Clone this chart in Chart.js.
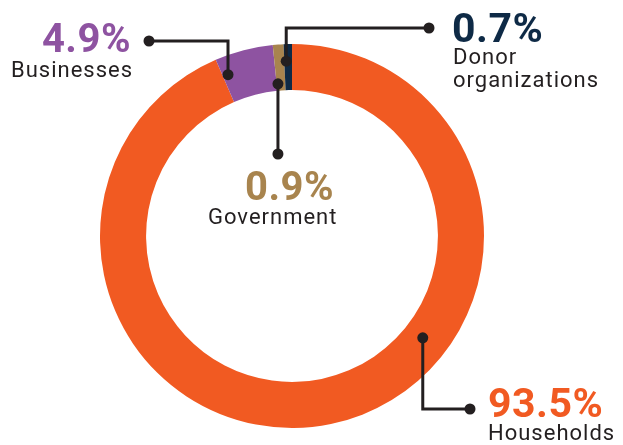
<!DOCTYPE html>
<html>
<head>
<meta charset="utf-8">
<script src="https://cdn.jsdelivr.net/npm/chart.js@4"></script>
<style>
  html, body { margin: 0; padding: 0; background: #fff; }
  .wrap { position: relative; width: 623px; height: 445px; overflow: hidden; }
  canvas { position: absolute; left: 0; top: 0; }
  .lbl { position: absolute; white-space: nowrap; line-height: 1; font-family: Roboto, "Noto Sans", sans-serif; }
  .pct { font-weight: 700; letter-spacing: 0.5px; }
  .name { color: #231f20; font-weight: 400; letter-spacing: 1px; }
</style>
</head>
<body>
<div class="wrap" id="wrap">
  <canvas id="chart" width="623" height="445"></canvas>
</div>
<script>
// data
const categories = ['Households', 'Businesses', 'Government', 'Donor organizations'];
const shares = [93.5, 4.9, 0.9, 0.7];
const sliceColors = ['#f15a22', '#8e53a1', '#a8844e', '#0e2a46'];

const LINE = '#231f20';

// callouts: t = position along the slice, rf = position across the ring
const callouts = [
  { index: 0, t: 0.38, rf: 0.43, elbowY: 409, endX: 470 },
  { index: 1, t: 0.10, rf: 0.60, elbowY: 41, endX: 149 },
  { index: 2, t: 0.15, rf: 0.15, elbowY: 154, endX: null },
  { index: 3, t: 0.25, rf: 0.63, elbowY: 28, endX: 429 },
];

// label placement: baseline y, left or right x
const labels = [
  { text: '93.5%', cls: 'pct', color: sliceColors[0], size: 41, left: 488, base: 418 },
  { text: 'Households', cls: 'name', size: 22, left: 488, base: 441 },
  { text: '4.9%', cls: 'pct', color: sliceColors[1], size: 40, right: 131, base: 53 },
  { text: 'Businesses', cls: 'name', size: 22, left: 11, base: 78 },
  { text: '0.9%', cls: 'pct', color: sliceColors[2], size: 40, left: 245, base: 201 },
  { text: 'Government', cls: 'name', size: 22, left: 208, base: 225 },
  { text: '0.7%', cls: 'pct', color: sliceColors[3], size: 41, left: 452, base: 43 },
  { text: 'Donor', cls: 'name', size: 22, left: 453, base: 65 },
  { text: 'organizations', cls: 'name', size: 22, left: 453, base: 88 },
];

const wrap = document.getElementById('wrap');
labels.forEach(l => {
  const el = document.createElement('div');
  el.className = 'lbl ' + l.cls;
  el.textContent = l.text;
  el.style.fontSize = l.size + 'px';
  el.style.top = (l.base - 0.842 * l.size) + 'px';
  if (l.color) el.style.color = l.color;
  if (l.right != null) el.style.right = (623 - l.right) + 'px';
  else el.style.left = l.left + 'px';
  wrap.appendChild(el);
});

const calloutPlugin = {
  id: 'callouts',
  afterDatasetsDraw(chart) {
    const ctx = chart.ctx;
    const arcs = chart.getDatasetMeta(0).data;
    ctx.save();
    ctx.strokeStyle = LINE;
    ctx.fillStyle = LINE;
    ctx.lineWidth = 3;
    ctx.lineJoin = 'miter';
    callouts.forEach(c => {
      const arc = arcs[c.index];
      const a = arc.startAngle + (arc.endAngle - arc.startAngle) * c.t;
      const r = arc.innerRadius + (arc.outerRadius - arc.innerRadius) * c.rf;
      const x0 = arc.x + r * Math.cos(a);
      const y0 = arc.y + r * Math.sin(a);
      const x1 = c.endX == null ? x0 : c.endX;
      ctx.beginPath();
      ctx.moveTo(x0, y0);
      ctx.lineTo(x0, c.elbowY);
      ctx.lineTo(x1, c.elbowY);
      ctx.stroke();
      [[x0, y0], [x1, c.elbowY]].forEach(([x, y]) => {
        ctx.beginPath();
        ctx.arc(x, y, 5.5, 0, Math.PI * 2);
        ctx.fill();
      });
    });
    ctx.restore();
  },
};

new Chart(document.getElementById('chart'), {
  type: 'doughnut',
  data: {
    labels: categories,
    datasets: [{
      data: shares,
      backgroundColor: sliceColors,
      borderWidth: 0,
    }],
  },
  options: {
    responsive: false,
    animation: false,
    cutout: '76%',
    layout: {
      padding: { left: 100, right: 139, top: 44, bottom: 17 },
    },
    plugins: {
      legend: { display: false },
      tooltip: { enabled: false },
    },
  },
  plugins: [calloutPlugin],
});
</script>
</body>
</html>
